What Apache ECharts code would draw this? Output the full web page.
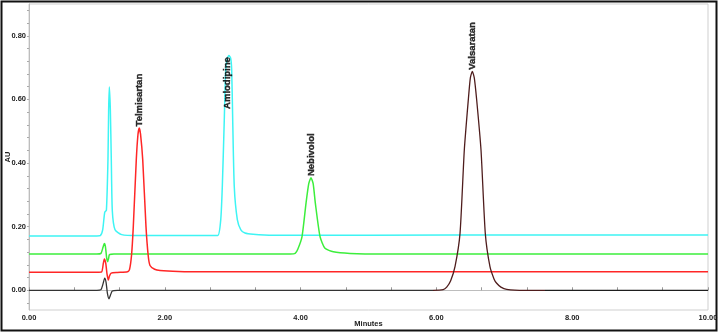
<!DOCTYPE html>
<html>
<head>
<meta charset="utf-8">
<script src="https://cdn.jsdelivr.net/npm/echarts@6/dist/echarts.min.js"></script>
<style>
  html, body { margin: 0; padding: 0; background: #fff; }
  #chart { width: 719px; height: 333px; }
</style>
</head>
<body>
<div id="chart"></div>
<script>
// retention time (min), absorbance (AU)
const cyanTrace = [
  [0, 0.171], [1.0, 0.171], [1.05, 0.172], [1.085, 0.19], [1.115, 0.245], [1.14, 0.252],
  [1.163, 0.411], [1.173, 0.567], [1.183, 0.639], [1.198, 0.567], [1.212, 0.411],
  [1.227, 0.25], [1.267, 0.19], [1.365, 0.175], [1.6, 0.172], [2.6, 0.172],
  [2.78, 0.172], [2.824, 0.222], [2.847, 0.326], [2.876, 0.536], [2.897, 0.693],
  [2.92, 0.73], [2.945, 0.738], [2.97, 0.73], [2.985, 0.693], [3.0, 0.536],
  [3.023, 0.326], [3.068, 0.222], [3.12, 0.19], [3.181, 0.18], [3.3, 0.176],
  [3.6, 0.173], [5.0, 0.173], [7.5, 0.174], [10, 0.174]
];
const greenTrace = [
  [0, 0.114], [1.0, 0.114], [1.06, 0.116], [1.09, 0.135], [1.109, 0.147], [1.125, 0.138],
  [1.145, 0.1], [1.159, 0.09], [1.172, 0.1], [1.185, 0.112], [1.25, 0.114],
  [3.85, 0.114], [3.92, 0.116], [3.96, 0.13], [4.021, 0.169], [4.08, 0.274],
  [4.12, 0.335], [4.153, 0.354], [4.185, 0.335], [4.217, 0.274], [4.286, 0.169],
  [4.359, 0.132], [4.482, 0.121], [4.728, 0.116], [5.2, 0.114], [10, 0.114]
];
const redTrace = [
  [0, 0.057], [1.0, 0.057], [1.07, 0.058], [1.095, 0.085], [1.11, 0.098], [1.13, 0.085],
  [1.15, 0.05], [1.168, 0.032], [1.185, 0.045], [1.21, 0.054], [1.3, 0.056],
  [1.45, 0.058], [1.48, 0.065], [1.51, 0.11], [1.536, 0.2], [1.58, 0.41],
  [1.605, 0.49], [1.624, 0.51], [1.643, 0.49], [1.675, 0.41], [1.723, 0.2],
  [1.755, 0.11], [1.782, 0.078], [1.85, 0.066], [1.93, 0.062], [2.2, 0.059],
  [2.6, 0.058], [10, 0.058]
];
const blackTrace = [
  [0, 0], [1.0, 0], [1.06, 0.002], [1.09, 0.02], [1.115, 0.038], [1.135, 0.025],
  [1.155, -0.01], [1.178, -0.027], [1.2, -0.015], [1.227, -0.002], [1.3, 0],
  [5.95, 0], [6.1, 0.002], [6.152, 0.01], [6.21, 0.03], [6.274, 0.074],
  [6.348, 0.179], [6.411, 0.441], [6.47, 0.599], [6.5, 0.668], [6.529, 0.688],
  [6.558, 0.668], [6.593, 0.599], [6.657, 0.441], [6.72, 0.179], [6.789, 0.074],
  [6.85, 0.035], [6.888, 0.022], [6.95, 0.01], [7.035, 0.003], [7.3, 0], [10, 0]
];

const peakNames = ['Telmisartan', 'Amlodipine', 'Nebivolol', 'Valsaratan'];
const peakTimes = [1.624, 2.926, 4.153, 6.529];
const peakLabelAU = [0.512, 0.567, 0.356, 0.69];

const xTickLabels = [0, 2, 4, 6, 8, 10];
const yLabelValues = [0, 0.2, 0.4, 0.6, 0.8];
const yTickValues = [-0.04, 0, 0.04, 0.08, 0.12, 0.16, 0.2, 0.24, 0.28, 0.32, 0.36, 0.4,
  0.44, 0.48, 0.52, 0.56, 0.6, 0.64, 0.68, 0.72, 0.76, 0.8, 0.84, 0.88];

const font = '"Liberation Sans", Arial, sans-serif';
const chart = echarts.init(document.getElementById('chart'));

function trace(data, color, width) {
  const s = {
    type: 'line',
    data: data,
    symbol: 'none',
    smooth: 0.2,
    lineStyle: { width: width },
    silent: true
  };
  if (color) {
    s.lineStyle.color = color;
    s.itemStyle = { color: color };
  }
  return s;
}

chart.setOption({
  animation: false,
  backgroundColor: '#fff',
  textStyle: { fontFamily: font },
  graphic: [{
    type: 'rect',
    shape: { x: 1.5, y: 1.5, width: 715, height: 329 },
    style: { fill: 'none', stroke: '#111', lineWidth: 2 },
    z: 100
  }],
  grid: {
    left: 29, right: 11, top: 4, bottom: 23,
    containLabel: false,
    outerBoundsMode: 'none',
    show: true, borderColor: '#cfcfcf', borderWidth: 1
  },
  xAxis: {
    type: 'value',
    min: 0, max: 10, interval: 2,
    name: 'Minutes',
    nameLocation: 'middle',
    nameGap: 10,
    nameMoveOverlap: false,
    nameTextStyle: { fontSize: 7.5, fontWeight: 'bold', color: '#222', fontFamily: font },
    axisLine: { show: true, lineStyle: { color: '#bdbdbd' } },
    axisTick: { show: true, inside: true, length: 3, lineStyle: { color: '#999' } },
    minorTick: { show: true, splitNumber: 3, length: 3, lineStyle: { color: '#999' } },
    splitLine: { show: false },
    axisLabel: {
      margin: 4, fontSize: 7.5, fontWeight: 'bold', color: '#222', fontFamily: font,
      customValues: xTickLabels,
      formatter: v => v.toFixed(2)
    }
  },
  yAxis: {
    type: 'value',
    min: -0.062, max: 0.9,
    name: 'AU',
    nameLocation: 'middle',
    nameGap: 17,
    nameMoveOverlap: false,
    nameTextStyle: { fontSize: 7.5, fontWeight: 'bold', color: '#222', fontFamily: font },
    axisLine: { show: true, lineStyle: { color: '#bdbdbd' } },
    axisTick: { show: true, length: 2, customValues: yTickValues, lineStyle: { color: '#aaa' } },
    splitLine: { show: false },
    axisLabel: {
      margin: 3, fontSize: 7.5, fontWeight: 'bold', color: '#222', fontFamily: font,
      customValues: yLabelValues,
      formatter: v => v.toFixed(2)
    }
  },
  visualMap: {
    show: false,
    type: 'piecewise',
    seriesIndex: 3,
    dimension: 0,
    pieces: [
      { lt: 5.95, color: '#333333' },
      { gte: 5.95, lte: 7.6, color: '#4e1c1c' },
      { gt: 7.6, color: '#1e1e1e' }
    ]
  },
  series: [
    trace(cyanTrace, '#3ef4f4', 1.5),
    trace(greenTrace, '#3cee3c', 1.5),
    trace(redTrace, '#ff2626', 1.5),
    trace(blackTrace, null, 1.3),
    {
      type: 'scatter',
      symbolSize: 0,
      silent: true,
      data: peakNames.map((n, i) => ({ name: n, value: [peakTimes[i], peakLabelAU[i]] })),
      label: {
        show: true,
        position: 'top',
        distance: 1,
        rotate: 90,
        align: 'left',
        verticalAlign: 'middle',
        formatter: p => p.name,
        fontSize: 9.5,
        fontWeight: 'bold',
        color: '#000',
        textBorderColor: '#000',
        textBorderWidth: 0.4,
        fontFamily: font
      },
      z: 10
    }
  ]
});
</script>
</body>
</html>
